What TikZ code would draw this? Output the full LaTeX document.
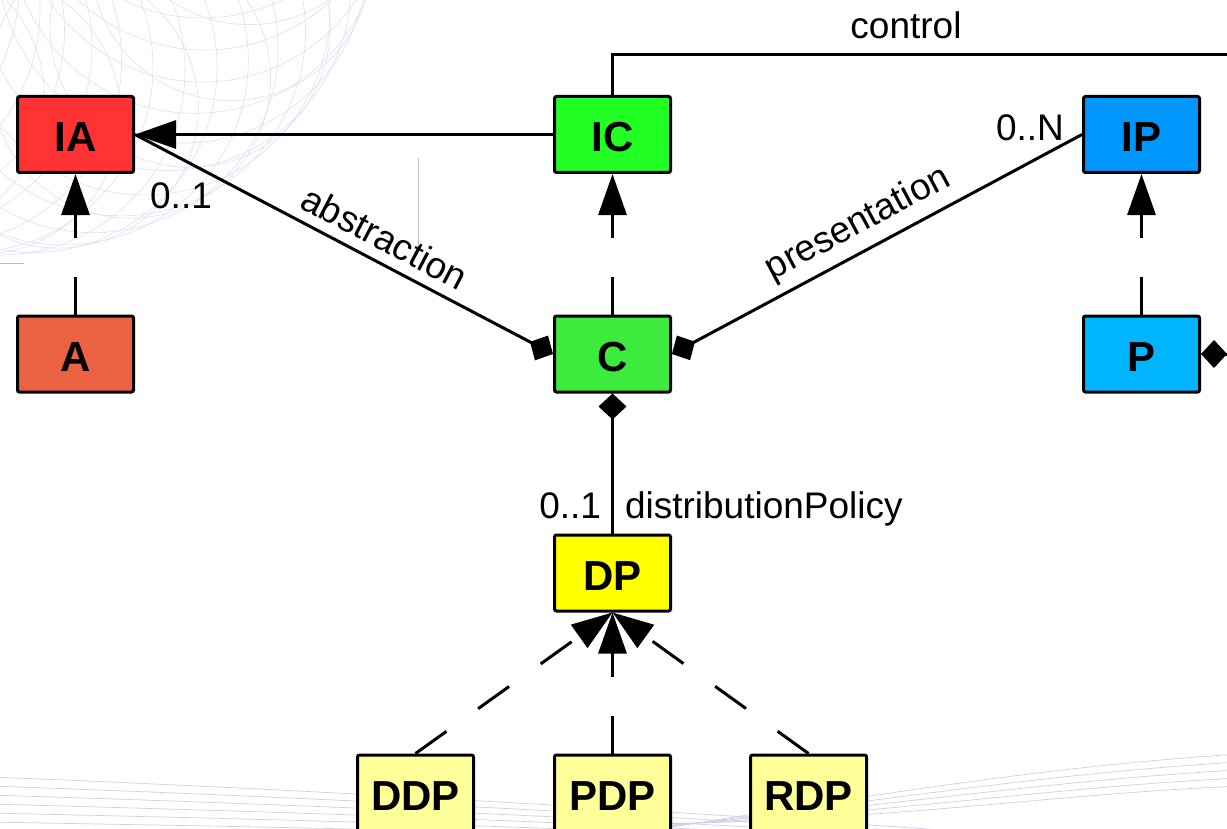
\documentclass[tikz,border=0pt]{standalone}
\usepackage{fontspec}
\setmainfont{Liberation Sans}
\usetikzlibrary{arrows.meta,calc}
\definecolor{iafill}{HTML}{FF3333}
\definecolor{afill}{HTML}{EA6241}
\definecolor{icfill}{HTML}{22FF22}
\definecolor{cfill}{HTML}{3DEB3D}
\definecolor{ipfill}{HTML}{0096FF}
\definecolor{pfill}{HTML}{00B4FF}
\definecolor{dpfill}{HTML}{FFFF00}
\definecolor{subfill}{HTML}{FFFF99}
\definecolor{spiroc}{HTML}{DDE0F9}
\definecolor{streakc}{HTML}{CDD0E2}
\begin{document}
\begin{tikzpicture}[x=0.5pt,y=-0.5pt,
  cls/.style={draw=black, line width=1.5pt, rounded corners=1pt,
    minimum width=58pt, minimum height=38pt, inner sep=0pt,
    text height=17.5pt, text depth=0pt,
    font=\fontsize{21}{25}\selectfont\bfseries},
  conn/.style={line width=1.5pt},
  gen/.style={conn, -{Triangle[length=20.5pt,width=14pt]}},
  realize/.style={gen, dash pattern=on 19pt off 19.5pt},
  diam/.tip={Diamond[length=13pt,width=14pt]},
  lbl/.style={font=\fontsize{18.5}{22}\selectfont, inner sep=0pt},
  spiro/.style={draw=spiroc, line width=0.3pt},
  streak/.style={draw=streakc, line width=0.35pt},
  guide/.style={draw=black!25, line width=0.5pt}]

\clip (0,0) rectangle (1227,829);
\fill[white] (0,0) rectangle (1227,829);

% decorative spirograph ring in the upper left
\foreach \a in {0,9,...,351}
  \draw[spiro] ($(0,-135)+(\a:205)$) circle[radius=185];
\foreach \a in {4.5,22.5,...,346.5}
  \draw[spiro] ($(0,-135)+(\a:250)$) circle[radius=140];

% faint swept streaks along the bottom
\foreach \k in {0,...,5}
  \draw[streak] (-10,{777+9*\k}) .. controls (250,{787+8*\k}) and (600,{806+5*\k}) .. (1000,{834+4*\k});
\foreach \k in {0,...,4}
  \draw[streak] (640,{832-2*\k}) .. controls (880,{794+7*\k}) and (1050,{766+7*\k}) .. (1240,{754+8*\k});

% thin guide rules
\draw[guide] (418,158) -- (418,247);
\draw[guide] (0,263) -- (24,263);

% classes
\node[cls, fill=iafill]  (IA)  at (75.5,134.5)  {IA};
\node[cls, fill=afill]   (A)   at (75.5,354)    {A};
\node[cls, fill=icfill]  (IC)  at (612.5,134.5) {IC};
\node[cls, fill=cfill]   (C)   at (612.5,354)   {C};
\node[cls, fill=ipfill]  (IP)  at (1141.5,134.5){IP};
\node[cls, fill=pfill]   (P)   at (1141.5,354)  {P};
\node[cls, fill=dpfill]  (DP)  at (612.5,573)   {DP};
\node[cls, fill=subfill] (DDP) at (415.5,793)   {DDP};
\node[cls, fill=subfill] (PDP) at (612.5,793)   {PDP};
\node[cls, fill=subfill] (RDP) at (808.5,793)   {RDP};

% free ends running off to the right
\coordinate (ctrlEnd) at (1260,55);
\coordinate (pEnd) at (1300,354);

% realizations
\draw[realize] (A.north) -- (IA.south);
\draw[realize] (C.north) -- (IC.south);
\draw[realize] (P.north) -- (IP.south);
\draw[realize] (DDP.north) -- (DP.south);
\draw[realize] (PDP.north) -- (DP.south);
\draw[realize] (RDP.north) -- (DP.south);

% inheritance IC -> IA
\draw[gen] (IC.west) -- (IA.east);

% control association
\draw[conn] (IC.north) |- (ctrlEnd);
\node[lbl] (ctrlLbl) at (906,25) {control};

% compositions
\draw[conn, -diam] (IA.east) -- (C.west)
  node[pos=0.57, sloped, above=5pt, lbl] (absLbl) {abstraction};
\draw[conn, diam-] (C.east) -- (IP.west)
  node[pos=0.485, sloped, above=4pt, lbl] (presLbl) {presentation};
\draw[conn, diam-] (C.south) -- (DP.north)
  node[pos=0.892, anchor=base east, xshift=-5pt, lbl] (dpMult) {0..1}
  node[pos=0.892, anchor=base west, xshift=5.5pt, lbl] (dpLbl) {distributionPolicy};
\draw[conn, diam-] (P.east) -- (pEnd);

% multiplicities
\node[lbl] (iaMult) at (181,196) {0..1};
\node[lbl] (ipMult) at (1030,128) {0..N};
\end{tikzpicture}
\end{document}
